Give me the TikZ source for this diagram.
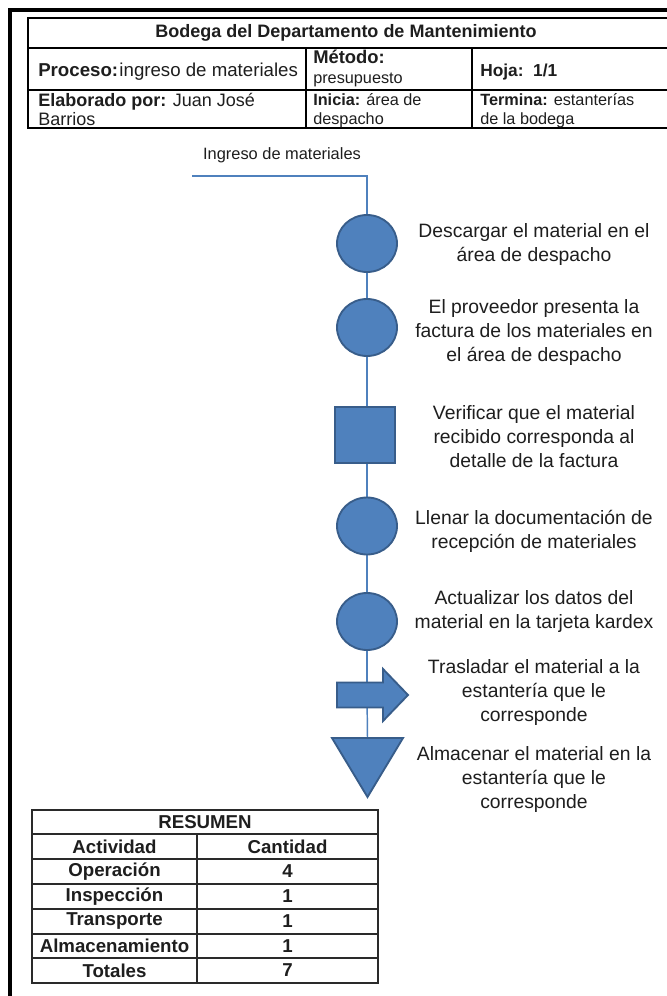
\documentclass[tikz,border=0pt]{standalone}
\usepackage{fontspec}
\setmainfont{Liberation Sans}
\usetikzlibrary{shapes.geometric,backgrounds}
\definecolor{shapefill}{HTML}{4F81BD}
\definecolor{shapeedge}{HTML}{385D8A}
\definecolor{txt}{HTML}{1E1E1E}
\definecolor{gridc}{HTML}{2A2A2A}
\begin{document}
\begin{tikzpicture}[x=0.75pt,y=-0.75pt,
  op/.style={ellipse, draw=shapeedge, fill=shapefill, line width=1.4pt, minimum width=45pt, minimum height=42.75pt, inner sep=0pt},
  insp/.style={rectangle, draw=shapeedge, fill=shapefill, line width=1.4pt, minimum width=45pt, minimum height=42pt, inner sep=0pt},
  symb/.style={draw=shapeedge, fill=shapefill, line width=1.4pt, line join=miter},
  flow/.style={draw=shapefill, line width=1.1pt},
  desc/.style={align=center, font=\fontsize{14.5}{18}\selectfont, text=txt, inner sep=0pt},
  hdr/.style={draw=black, line width=1.1pt},
  htxt/.style={anchor=base west, inner sep=0pt, text=txt, font=\fontsize{13.5}{16}\selectfont},
  hsml/.style={anchor=base west, inner sep=0pt, text=txt, font=\fontsize{12.2}{14}\selectfont},
  tgrid/.style={draw=gridc, line width=1.1pt},
  ttxt/.style={inner sep=0pt, text=txt, font=\fontsize{14}{16}\selectfont\bfseries}
]
\useasboundingbox (0,0) rectangle (667,996);
\clip (0,0) rectangle (667,996);

% outer frame
\draw[line width=2.4pt] (10,1000) -- (10,10) -- (680,10);

% header table
\draw[hdr] (28,18) rectangle (690,128);
\draw[hdr] (28,48) -- (690,48);
\draw[hdr] (28,90) -- (690,90);
\draw[hdr] (306,48) -- (306,128);
\draw[hdr] (472,48) -- (472,128);

\node[anchor=base, inner sep=0pt, text=txt, font=\fontsize{13.5}{16}\selectfont\bfseries] (title) at (346,37) {Bodega del Departamento de Mantenimiento};
\node[htxt, font=\fontsize{14}{16}\selectfont] (proc) at (38,76) {\textbf{Proceso:}\hspace{1pt}ingreso de materiales};
\node[htxt, font=\fontsize{13.8}{16}\selectfont\bfseries] (met) at (313,63) {Método:};
\node[hsml] (metv) at (313,83) {presupuesto};
\node[htxt, font=\fontsize{13}{16}\selectfont\bfseries] (hoja) at (480,76) {Hoja:\ \ 1/1};
\node[htxt] (elab) at (38,106) {\textbf{Elaborado por:} Juan José};
\node[htxt] (elab2) at (38,125) {Barrios};
\node[hsml] (ini) at (313,105) {\textbf{Inicia:} área de};
\node[hsml] (ini2) at (313,124) {despacho};
\node[hsml] (ter) at (480,105) {\textbf{Termina:} estanterías};
\node[hsml] (ter2) at (480,124) {de la bodega};

% flow label
\node[inner sep=0pt, text=txt, font=\fontsize{12.3}{14}\selectfont] (lbl) at (282,155) {Ingreso de materiales};
\coordinate (start) at (192,176);

% symbols
\node[op] (c1) at (367,243.5) {};
\node[op] (c2) at (367,327.5) {};
\node[insp] (sq) at (365,435) {};
\node[op] (c3) at (367,526) {};
\node[op] (c4) at (367,621.5) {};
\draw[symb] (337,682.5) -- (383,682.5) -- (383,669) -- (408,695) -- (383,721) -- (383,707.5) -- (337,707.5) -- cycle;
\coordinate (arr) at (367,695);
\draw[symb] (332,738) -- (403,738) -- (367.5,797) -- cycle;
\coordinate (tri) at (367.5,738);

% connectors
\begin{scope}[on background layer]
\fill[white] (0,0) rectangle (667,996);
\draw[flow] (start) -| (c1.north);
\draw[flow] (c1) -- (c2);
\draw[flow] (c2) -- (c2 |- sq.north);
\draw[flow] (c2 |- sq.south) -- (c3);
\draw[flow] (c3) -- (c4);
\draw[flow] (c4) -- (arr);
\draw[flow] (arr) -- (tri);
\end{scope}

% descriptions
\node[desc] (d1) at (534,244.5) {Descargar el material en el\\área de despacho};
\node[desc] (d2) at (534,332) {El proveedor presenta la\\factura de los materiales en\\el área de despacho};
\node[desc] (d3) at (534,437) {Verificar que el material\\recibido corresponda al\\detalle de la factura};
\node[desc] (d4) at (534,531) {Llenar la documentación de\\recepción de materiales};
\node[desc] (d5) at (534,611) {Actualizar los datos del\\material en la tarjeta kardex};
\node[desc] (d6) at (534,692) {Trasladar el material a la\\estantería que le\\corresponde};
\node[desc] (d7) at (534,779) {Almacenar el material en la\\estantería que le\\corresponde};

% summary table
\draw[tgrid] (32,810) rectangle (378,983);
\foreach \yy in {834,859,884,909,934,958} \draw[tgrid] (32,\yy) -- (378,\yy);
\draw[tgrid] (197,834) -- (197,983);
\node[ttxt] (res) at (205,822) {RESUMEN};
\node[ttxt] (h1) at (114.5,846.5) {Actividad};
\node[ttxt] (h2) at (287.5,846.5) {Cantidad};
\node[ttxt] (r1) at (114.5,871.5) {Operación};
\node[ttxt] (v1) at (287.5,871.5) {4};
\node[ttxt] (r2) at (114.5,896.5) {Inspección};
\node[ttxt] (v2) at (287.5,896.5) {1};
\node[ttxt] (r3) at (114.5,921.5) {Transporte};
\node[ttxt] (v3) at (287.5,921.5) {1};
\node[ttxt] (r4) at (114.5,946) {Almacenamiento};
\node[ttxt] (v4) at (287.5,946) {1};
\node[ttxt] (r5) at (114.5,970.5) {Totales};
\node[ttxt] (v5) at (287.5,970.5) {7};
\end{tikzpicture}
\end{document}
